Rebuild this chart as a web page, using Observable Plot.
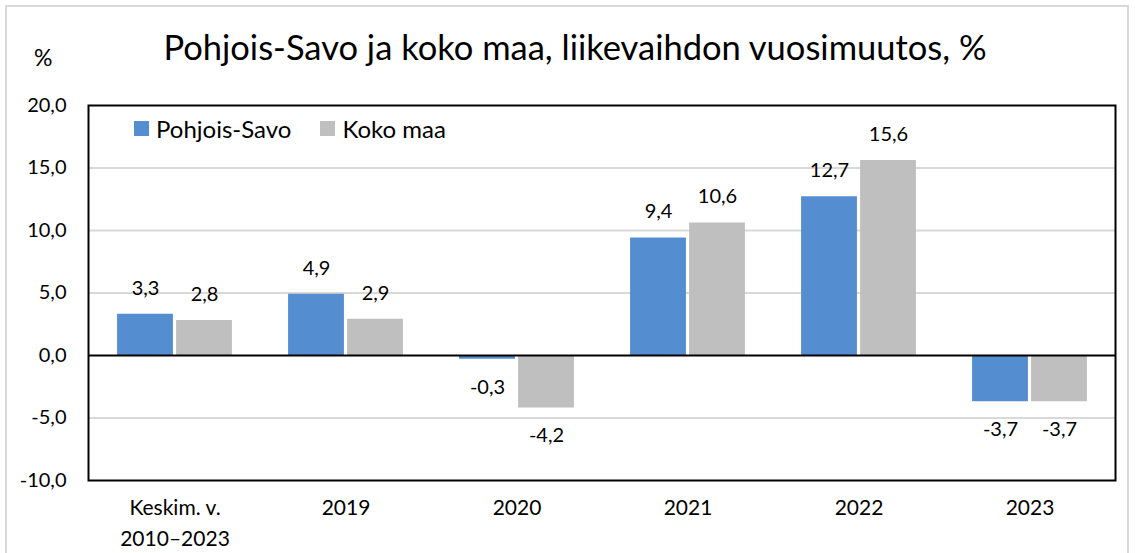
<!DOCTYPE html>
<html>
<head>
<meta charset="utf-8">
<script src="https://cdn.jsdelivr.net/npm/d3@7"></script>
<script src="https://cdn.jsdelivr.net/npm/@observablehq/plot@0.6"></script>
<style>
  html, body { margin: 0; padding: 0; background: #fff; overflow: hidden; }
  #wrap { position: relative; width: 1135px; height: 553px; overflow: hidden; font-family: Lato, "Open Sans", sans-serif; }
  #border { position: absolute; left: 5px; top: 5px; width: 1124px; height: 600px; border: 2px solid #d9d9d9; box-sizing: border-box; }
  #title { position: absolute; left: 0; width: 1150px; top: 26px; text-align: center; font-size: 34.5px; color: #000; white-space: nowrap; }
  #unit { position: absolute; left: 34px; top: 43px; font-size: 23px; color: #000; }
  #legend { position: absolute; left: 134px; top: 112px; }
  .lg-swatch { margin-right: 29px !important; }
  .lg-swatch > svg { margin-right: 7px !important; }
  #chart { position: absolute; left: 0; top: 0; }
</style>
</head>
<body>
<div id="wrap">
  <div id="border"></div>
  <div id="chart"></div>
  <div id="title">Pohjois-Savo ja koko maa, liikevaihdon vuosimuutos, %</div>
  <div id="unit">%</div>
  <div id="legend"></div>
</div>
<script>
const categories = ["Keskim. v.\n2010–2023", "2019", "2020", "2021", "2022", "2023"];
const series = ["Pohjois-Savo", "Koko maa"];
const pohjoisSavo = [3.3, 4.9, -0.3, 9.4, 12.7, -3.7];
const kokoMaa = [2.8, 2.9, -4.2, 10.6, 15.6, -3.7];
const yTicks = [-10, -5, 0, 5, 10, 15, 20];
const colors = ["#558ed0", "#bfbfbf"];

const fmt = v => v.toFixed(1).replace(".", ",");
const rows = [];
categories.forEach((c, i) => {
  rows.push({cat: c, series: series[0], value: pohjoisSavo[i]});
  rows.push({cat: c, series: series[1], value: kokoMaa[i]});
});
const ps = rows.filter(d => d.series === series[0]);
const km = rows.filter(d => d.series === series[1]);

const W = 1135, H = 553;
const mL = 88, mR = 20, mT = 105, mB = 73;
const band = (W - mL - mR) / categories.length;
const barW = 56, gap = 3;
const outer = band / 2 - barW - gap / 2;
const inner = band / 2 + gap / 2;
const off = barW / 2 + gap / 2;

const labelMarks = (data, dx) => [
  Plot.text(data.filter(d => d.value >= 0), {x: "cat", y: "value", text: d => fmt(d.value), dx, dy: -26, fontSize: 20, fill: "#000"}),
  Plot.text(data.filter(d => d.value < 0), {x: "cat", y: "value", text: d => fmt(d.value), dx, dy: 28, fontSize: 20, fill: "#000"})
];

const chart = Plot.plot({
  width: W, height: H,
  marginLeft: mL, marginRight: mR, marginTop: mT, marginBottom: mB,
  style: {fontFamily: "Lato, 'Open Sans', sans-serif", fontSize: "20px", color: "#000", background: "transparent"},
  x: {domain: categories, padding: 0},
  y: {domain: [-10, 20]},
  color: {domain: series, range: colors},
  marks: [
    Plot.ruleY(yTicks.filter(t => t !== 0 && t !== -10 && t !== 20), {stroke: "#d9d9d9", strokeWidth: 2}),
    Plot.barY(ps, {x: "cat", y: "value", fill: "series", insetLeft: outer, insetRight: inner}),
    Plot.barY(km, {x: "cat", y: "value", fill: "series", insetLeft: inner, insetRight: outer}),
    Plot.ruleY([0], {stroke: "#000", strokeWidth: 2}),
    Plot.frame({stroke: "#000", strokeWidth: 2}),
    ...labelMarks(ps, -off),
    ...labelMarks(km, off),
    Plot.axisY({ticks: yTicks, tickFormat: fmt, tickSize: 0, tickPadding: 22, fontSize: 20, label: null}),
    Plot.axisX({tickSize: 0, tickPadding: 12, fontSize: 21, lineHeight: 1.476, label: null})
  ]
});
document.getElementById("chart").appendChild(chart);

const leg = Plot.legend({
  color: {domain: series, range: colors},
  legend: "swatches",
  swatchSize: 15,
  className: "lg",
  style: {fontFamily: "Lato, 'Open Sans', sans-serif", fontSize: "24px", color: "#000"}
});
document.getElementById("legend").appendChild(leg);
</script>
</body>
</html>
